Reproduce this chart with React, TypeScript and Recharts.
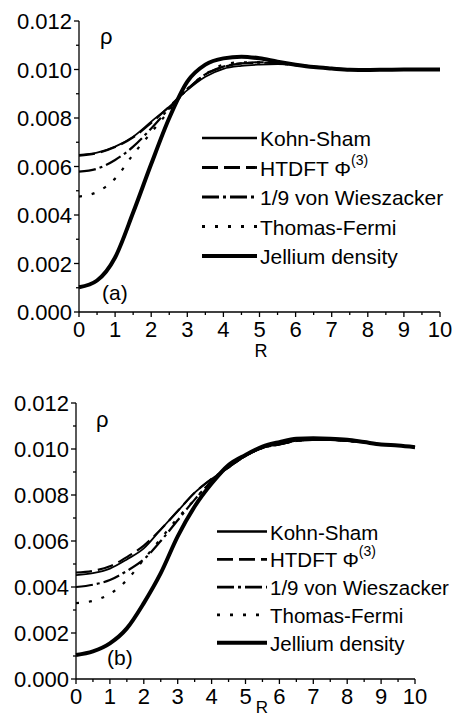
import { LineChart, Line, XAxis, YAxis, Customized } from 'recharts';

const FONT = 'Liberation Sans, Arial, Helvetica, sans-serif';

const R = [0, 0.5, 1, 1.5, 2, 2.5, 3, 3.5, 4, 4.5, 5, 5.5, 6, 6.5, 7, 7.5, 8, 8.5, 9, 9.5, 10];
const xTicks = [0, 0.5, 1, 1.5, 2, 2.5, 3, 3.5, 4, 4.5, 5, 5.5, 6, 6.5, 7, 7.5, 8, 8.5, 9, 9.5, 10];
const yTicks = [0, 0.001, 0.002, 0.003, 0.004, 0.005, 0.006, 0.007, 0.008, 0.009, 0.01, 0.011, 0.012];

// panel (a)
const aKS = [0.00648, 0.00657, 0.00682, 0.00723, 0.00785, 0.00847, 0.00915, 0.0097, 0.01003, 0.01015, 0.0102, 0.01022, 0.0102, 0.01012, 0.01005, 0.01002, 0.01, 0.01, 0.01, 0.01, 0.01];
const aHT = [0.00645, 0.00655, 0.0068, 0.0072, 0.0078, 0.00847, 0.00918, 0.0098, 0.0101, 0.01025, 0.0103, 0.01028, 0.0102, 0.01012, 0.01005, 0.01001, 0.01, 0.01, 0.01, 0.01, 0.01];
const aVW = [0.00579, 0.00591, 0.00627, 0.00682, 0.00757, 0.0084, 0.00918, 0.0098, 0.01012, 0.01025, 0.01028, 0.01025, 0.01018, 0.0101, 0.01004, 0.01, 0.01, 0.01, 0.01, 0.01, 0.01];
const aTF = [0.00476, 0.00495, 0.0055, 0.0065, 0.0074, 0.0083, 0.0092, 0.0098, 0.0102, 0.0103, 0.0103, 0.01025, 0.01018, 0.0101, 0.01004, 0.01, 0.01, 0.01, 0.01, 0.01, 0.01];
const aJel = [0.00102, 0.0013, 0.00225, 0.0041, 0.0061, 0.008, 0.0095, 0.0102, 0.01046, 0.01053, 0.01046, 0.01032, 0.0102, 0.0101, 0.01004, 0.00999, 0.00998, 0.00999, 0.01, 0.01, 0.01];

// panel (b)
const bKS = [0.00452, 0.0046, 0.0048, 0.0052, 0.00568, 0.0065, 0.0073, 0.0081, 0.0087, 0.0092, 0.0097, 0.01005, 0.0102, 0.01035, 0.0104, 0.0104, 0.01035, 0.0103, 0.0102, 0.01015, 0.01008];
const bHT = [0.00463, 0.0047, 0.0049, 0.0053, 0.0058, 0.0065, 0.0073, 0.0081, 0.0087, 0.0092, 0.0097, 0.01005, 0.0102, 0.01035, 0.0104, 0.0104, 0.01035, 0.0103, 0.0102, 0.01015, 0.01008];
const bVW = [0.004, 0.0041, 0.0043, 0.0047, 0.0052, 0.006, 0.0069, 0.0078, 0.0086, 0.0092, 0.0097, 0.01005, 0.0102, 0.01035, 0.0104, 0.0104, 0.01035, 0.0103, 0.0102, 0.01015, 0.01008];
const bTF = [0.0033, 0.0034, 0.0037, 0.0043, 0.0052, 0.0061, 0.007, 0.0078, 0.0086, 0.0092, 0.0097, 0.01005, 0.0102, 0.01035, 0.0104, 0.0104, 0.01035, 0.0103, 0.0102, 0.01015, 0.01008];
const bJel = [0.00104, 0.0012, 0.00155, 0.0022, 0.0033, 0.0046, 0.0062, 0.0075, 0.0085, 0.0093, 0.00974, 0.0101, 0.0103, 0.01045, 0.01047, 0.01045, 0.0104, 0.0103, 0.0102, 0.01015, 0.01008];

const series = [
    { key: 'ks', name: 'Kohn-Sham', width: 1.8, dash: undefined },
    { key: 'ht', name: 'HTDFT', width: 2.2, dash: '16 6' },
    { key: 'vw', name: '1/9 von Wieszacker', width: 2.2, dash: '17 4 3 4' },
    { key: 'tf', name: 'Thomas-Fermi', width: 2.2, dash: '3 10' },
    { key: 'jel', name: 'Jellium density', width: 4, dash: undefined },
];

const buildRows = (ks: number[], ht: number[], vw: number[], tf: number[], jel: number[]) =>
    R.map((r, i) => ({ r, ks: ks[i], ht: ht[i], vw: vw[i], tf: tf[i], jel: jel[i] }));

const rowsA = buildRows(aKS, aHT, aVW, aTF, aJel);
const rowsB = buildRows(bKS, bHT, bVW, bTF, bJel);

const XTick = (props: any) => {
    const { x, y, payload } = props;
    const major = Number.isInteger(payload.value);
    return (
        <g>
            <line x1={x} x2={x} y1={y} y2={y + (major ? 5 : 3)} stroke="#000" strokeWidth={1.3} />
            {major && (
                <text x={x} y={y + 25} textAnchor="middle" fontSize={22} fontFamily={FONT} fill="#000">
                    {payload.value}
                </text>
            )}
        </g>
    );
};

const YTick = (props: any) => {
    const { x, y, payload } = props;
    const major = Math.round(payload.value * 1000) % 2 === 0;
    return (
        <g>
            <line x1={x} x2={x - (major ? 5 : 3)} y1={y} y2={y} stroke="#000" strokeWidth={1.3} />
            {major && (
                <text x={x - 7} y={y + 8} textAnchor="end" fontSize={22} fontFamily={FONT} fill="#000">
                    {payload.value.toFixed(3)}
                </text>
            )}
        </g>
    );
};

function Annotations({ tag, tagX, tagY, rhoX, rhoY, rX, rY, rSize, legX, legY, legDy, legLen, legFont }: any) {
    return (
        <g fontFamily={FONT} fill="#000">
            <text x={rhoX} y={rhoY} fontSize={22}>ρ</text>
            <text x={tagX} y={tagY} fontSize={21}>{tag}</text>
            <text x={rX} y={rY} fontSize={rSize} textAnchor="middle">R</text>
            {series.map((s, i) => {
                const cy = legY + i * legDy;
                return (
                    <g key={s.key}>
                        <line x1={legX} x2={legX + legLen} y1={cy} y2={cy} stroke="#000" strokeWidth={s.key === 'jel' ? 4 : s.width + 0.6} strokeDasharray={s.dash} />
                        <text x={legX + legLen + 3} y={cy + 8} fontSize={legFont}>
                            {s.key === 'ht' ? (
                                <>
                                    HTDFT Φ
                                    <tspan fontSize={14} dy={-11}>(3)</tspan>
                                </>
                            ) : (
                                s.name
                            )}
                        </text>
                    </g>
                );
            })}
        </g>
    );
}

function Panel({ data, width, height, margin, yWidth, annot }: any) {
    return (
        <LineChart width={width} height={height} data={data} margin={margin}>
            <XAxis
                dataKey="r"
                type="number"
                domain={[0, 10]}
                ticks={xTicks}
                interval={0}
                height={30}
                tickSize={0}
                tickMargin={0}
                tickLine={false}
                axisLine={{ stroke: '#000', strokeWidth: 1.3 }}
                tick={<XTick />}
            />
            <YAxis
                type="number"
                domain={[0, 0.012]}
                ticks={yTicks}
                interval={0}
                width={yWidth}
                tickSize={0}
                tickMargin={0}
                tickLine={false}
                axisLine={{ stroke: '#000', strokeWidth: 1.3 }}
                tick={<YTick />}
            />
            {series.map((s) => (
                <Line
                    key={s.key}
                    type="monotone"
                    dataKey={s.key}
                    stroke="#000"
                    strokeWidth={s.width}
                    strokeDasharray={s.dash}
                    dot={false}
                    activeDot={false}
                    isAnimationActive={false}
                />
            ))}
            <Customized component={() => <Annotations {...annot} />} />
        </LineChart>
    );
}

export default function App() {
    return (
        <div style={{ position: 'absolute', left: 0, top: 0, width: 461, height: 719, background: '#fff' }}>
            <div style={{ position: 'absolute', left: 0, top: 0 }}>
                <Panel
                    data={rowsA}
                    width={461}
                    height={360}
                    margin={{ top: 21, right: 21, bottom: 18, left: 0 }}
                    yWidth={79}
                    annot={{ tag: '(a)', tagX: 102, tagY: 300, rhoX: 100, rhoY: 44, rX: 261, rY: 357, rSize: 18, legX: 202, legY: 138, legDy: 29.5, legLen: 55, legFont: 21 }}
                />
            </div>
            <div style={{ position: 'absolute', left: 0, top: 360 }}>
                <Panel
                    data={rowsB}
                    width={461}
                    height={359}
                    margin={{ top: 43, right: 46, bottom: 10, left: 0 }}
                    yWidth={76}
                    annot={{ tag: '(b)', tagX: 107, tagY: 305, rhoX: 96, rhoY: 67, rX: 262, rY: 353, rSize: 17, legX: 217, legY: 171.5, legDy: 27.8, legLen: 50, legFont: 20.5 }}
                />
            </div>
        </div>
    );
}
